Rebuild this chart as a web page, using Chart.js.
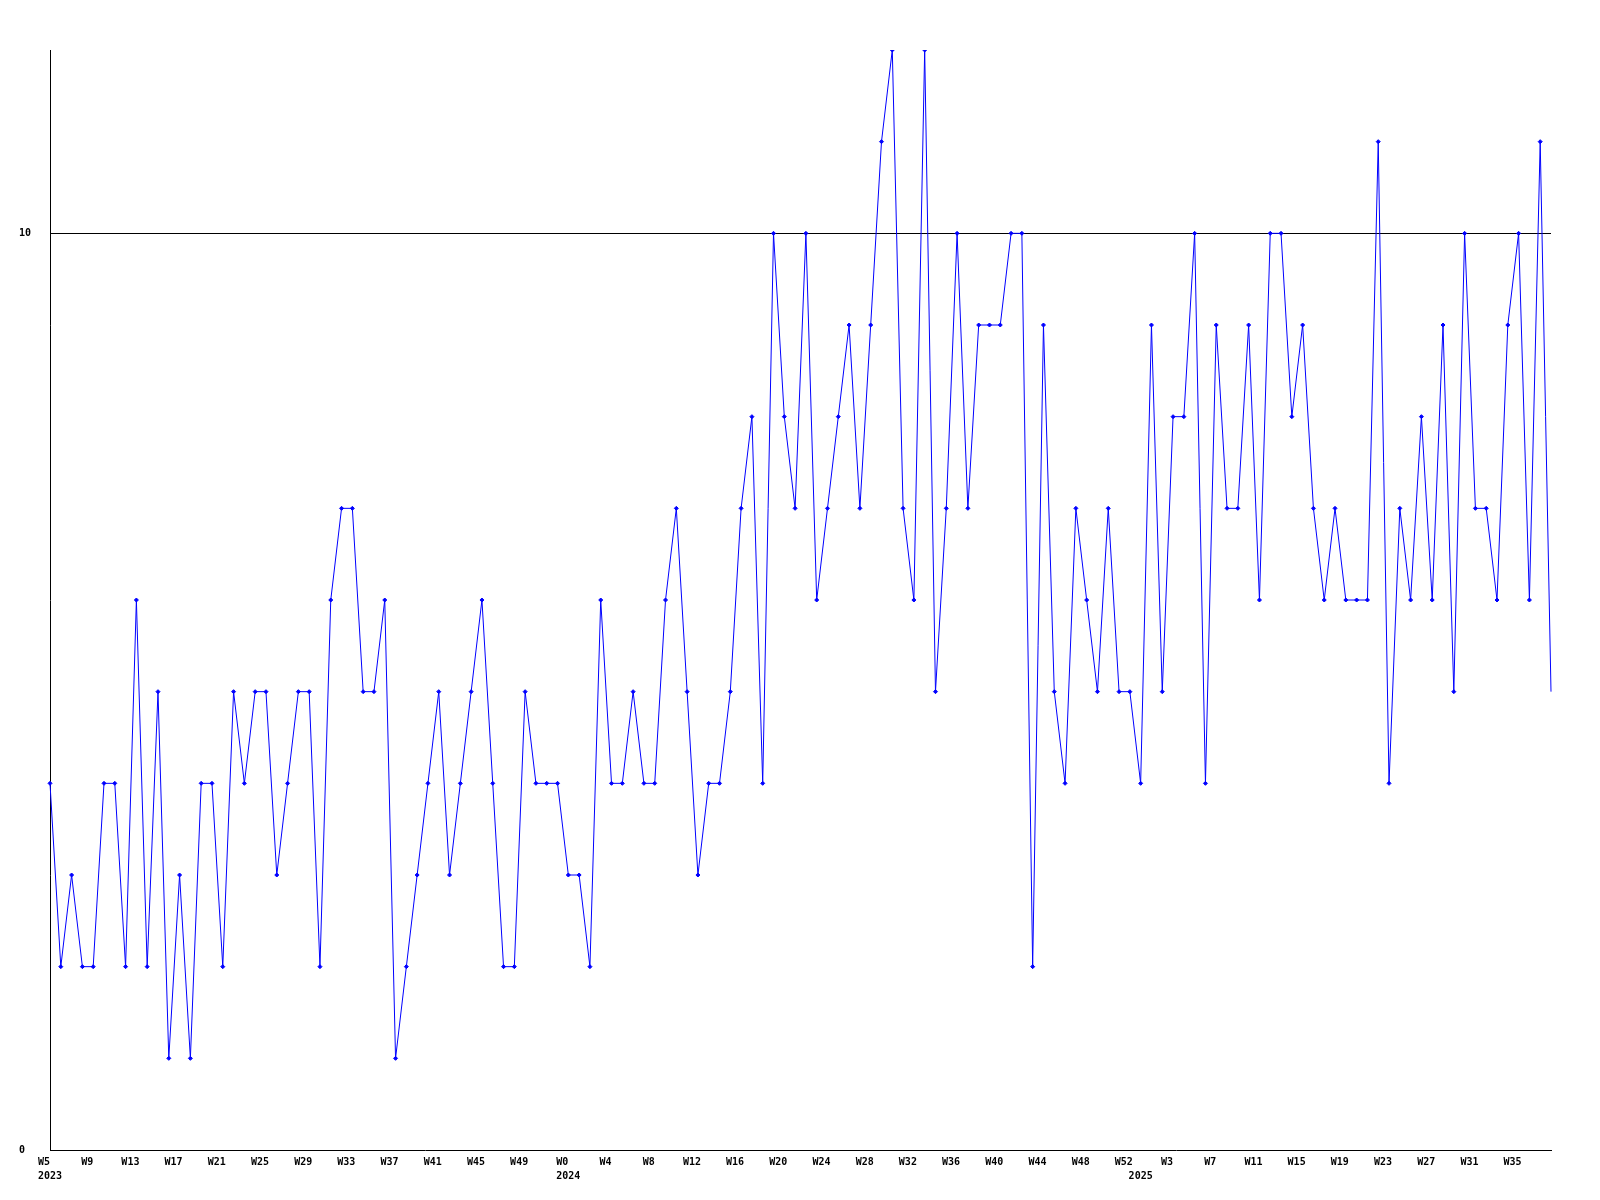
<!DOCTYPE html>
<html>
<head>
<meta charset="utf-8">
<title>Weekly values</title>
<script src="https://cdn.jsdelivr.net/npm/chart.js@4/dist/chart.umd.min.js"></script>
<style>
  html, body { margin: 0; padding: 0; background: #ffffff; }
  #chart { display: block; }
</style>
</head>
<body>
<canvas id="chart" width="1600" height="1200"></canvas>
<script>
"use strict";

/**************************************************************
 * Data
 **************************************************************/
const years = [2023, 2024, 2025];
const firstWeek = [5, 0, 0];
const lastWeek = [52, 52, 38];

const values = [
  4, 2, 3, 2, 2, 4, 4, 2, 6, 2, 5, 1, 3, 1, 4, 4, 2, 5, 4, 5, 5, 3, 4, 5,
  5, 2, 6, 7, 7, 5, 5, 6, 1, 2, 3, 4, 5, 3, 4, 5, 6, 4, 2, 2, 5, 4, 4,
  4, 3, 3, 2, 6, 4, 4, 5, 4, 4, 6, 7, 5, 3, 4, 4, 5, 7, 8, 4, 10, 8, 7,
  10, 6, 7, 8, 9, 7, 9, 11, 12, 7, 6, 12, 5, 7, 10, 7, 9, 9, 9, 10, 10, 2, 9,
  5, 4, 7, 6, 5, 7, 5, 5, 4, 9, 5, 8, 8, 10, 4, 9, 7, 7, 9, 6, 10, 10, 8,
  9, 7, 6, 7, 6, 6, 6, 11, 4, 7, 6, 8, 6, 9, 5, 10, 7, 7, 6, 9, 10, 6, 11, 5,
];

const yTicks = [0, 10];
const yMax = 12;
const labelEvery = 4;

/**************************************************************
 * Categories
 **************************************************************/
const weeks = [];
const yearMark = [];

years.forEach((year, i) => {
  for (let w = firstWeek[i]; w <= lastWeek[i]; w++) {
    weeks.push("W" + w);
    yearMark.push(w === firstWeek[i] ? String(year) : "");
  }
});

const tickFont = {
  family: "'DejaVu Sans Mono', 'Liberation Mono', monospace",
  weight: "bold",
  size: 10,
  lineHeight: 1.45,
};

/**************************************************************
 * Chart
 **************************************************************/
new Chart(document.getElementById("chart"), {
  type: "line",
  data: {
    labels: weeks,
    datasets: [
      {
        data: values,
        borderColor: "#0000ff",
        borderWidth: 1,
        backgroundColor: "#0000ff",
        tension: 0,
        fill: false,
        pointStyle: "rectRot",
        pointRadius: (ctx) => (ctx.dataIndex === values.length - 1 ? 0 : 2),
        pointBorderWidth: 1,
        pointBorderColor: "#0000ff",
        pointBackgroundColor: "#0000ff",
      },
    ],
  },
  options: {
    responsive: false,
    animation: false,
    devicePixelRatio: 1,
    layout: {
      padding: { left: 19, right: 49, top: 50, bottom: 0 },
    },
    plugins: {
      legend: { display: false },
      tooltip: { enabled: false },
    },
    scales: {
      // week labels, every 4th week
      x: {
        type: "category",
        position: "bottom",
        offset: false,
        afterFit: (scale) => {
          scale.height = 18;
        },
        grid: { display: false, drawTicks: false },
        border: { display: true, color: "#000000", width: 1 },
        ticks: {
          autoSkip: false,
          maxRotation: 0,
          minRotation: 0,
          padding: 5,
          labelOffset: -6,
          color: "#000000",
          font: tickFont,
          callback: (value, index) => (index % labelEvery === 0 ? weeks[index] : ""),
        },
      },
      // year labels, under the first week of each year
      x2: {
        type: "category",
        position: "bottom",
        offset: false,
        afterFit: (scale) => {
          scale.height = 32;
        },
        grid: { display: false, drawTicks: false },
        border: { display: false },
        ticks: {
          autoSkip: false,
          maxRotation: 0,
          minRotation: 0,
          padding: 1,
          color: "#000000",
          font: tickFont,
          callback: (value, index) => yearMark[index],
        },
      },
      y: {
        min: 0,
        max: yMax,
        afterFit: (scale) => {
          scale.width = 31;
        },
        afterBuildTicks: (scale) => {
          scale.ticks = yTicks.map((v) => ({ value: v }));
        },
        grid: {
          drawTicks: false,
          lineWidth: 1,
          color: (ctx) => (ctx.tick && ctx.tick.value === 10 ? "#000000" : "rgba(0,0,0,0)"),
        },
        border: { display: true, color: "#000000", width: 1 },
        ticks: {
          crossAlign: "far",
          color: "#000000",
          font: tickFont,
        },
      },
    },
  },
});
</script>
</body>
</html>
